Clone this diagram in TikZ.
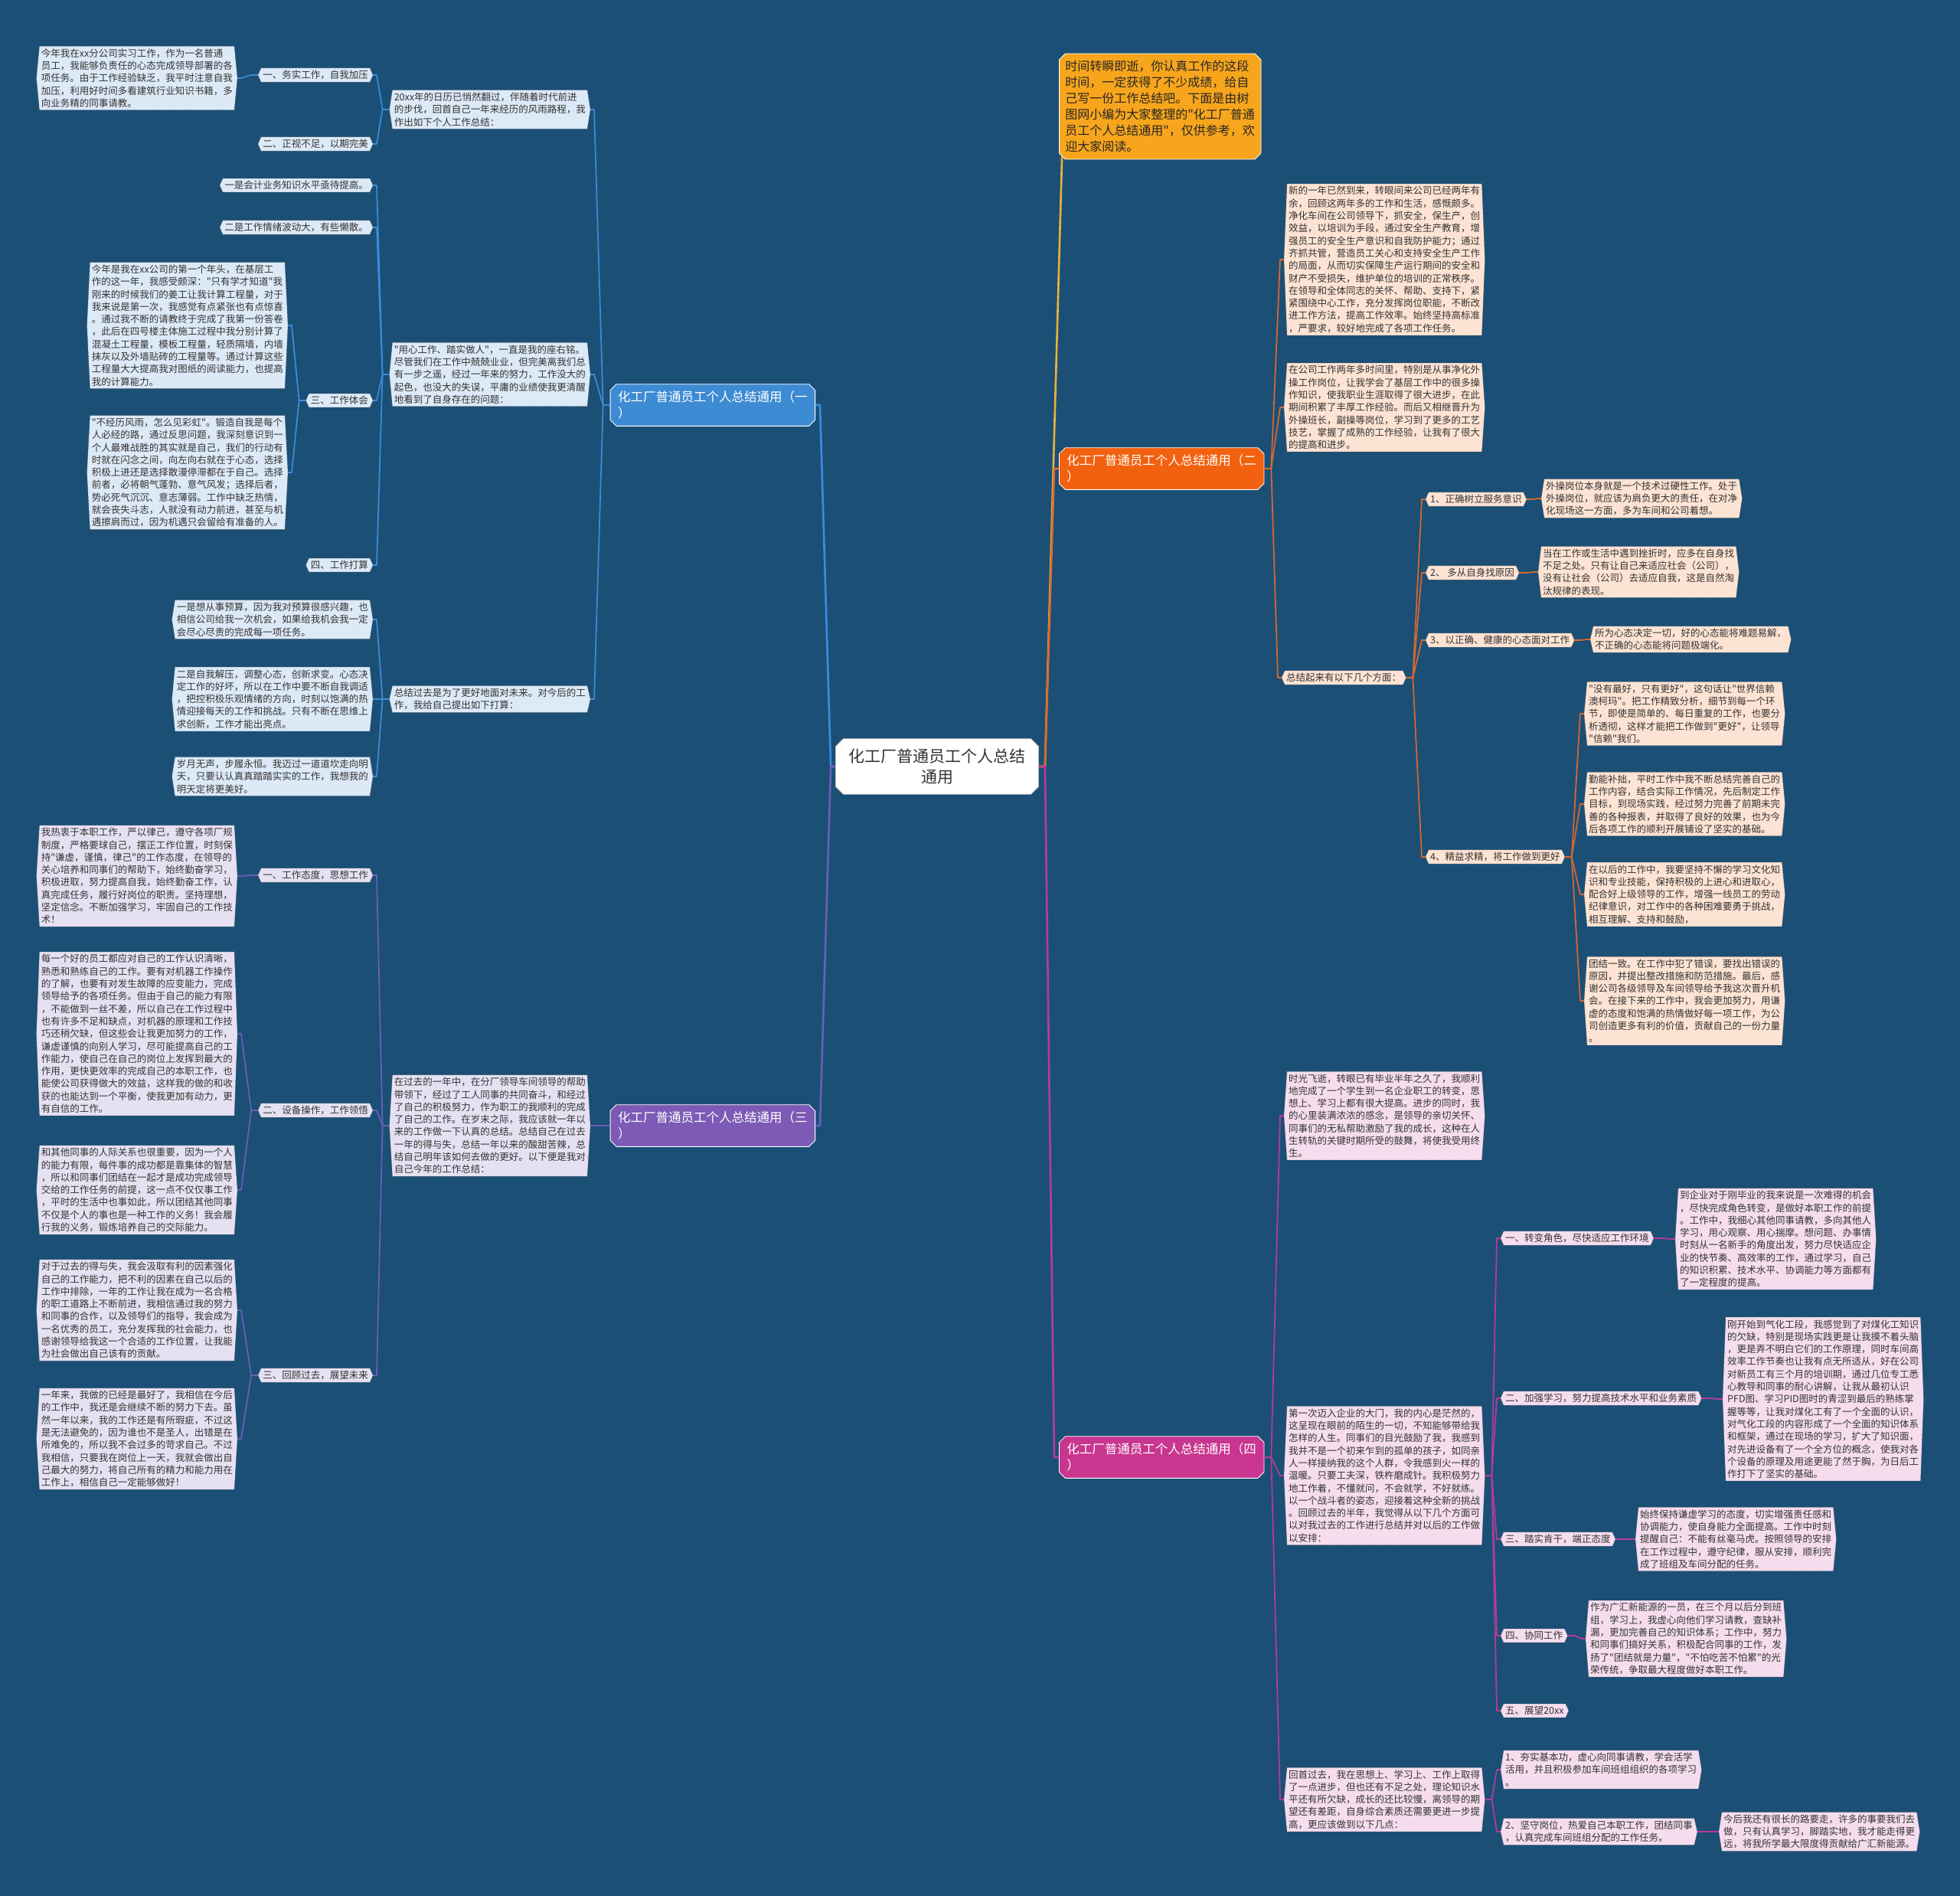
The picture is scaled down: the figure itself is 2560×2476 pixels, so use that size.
\documentclass[tikz,border=0pt]{standalone}
\usepackage{fontspec}
\setmainfont{Noto Sans CJK SC}[Ligatures=TeXOff]
\usetikzlibrary{shapes.misc,backgrounds}

\definecolor{pagebg}{HTML}{1C4F76}
\definecolor{inktext}{HTML}{333333}
\definecolor{blueline}{HTML}{3B8DDB}
\definecolor{bluefill}{HTML}{3D8BD3}
\definecolor{blueleaf}{HTML}{DCE9F6}
\definecolor{redline}{HTML}{D9692E}
\definecolor{redfill}{HTML}{F2610F}
\definecolor{redleaf}{HTML}{FDE3D3}
\definecolor{purpline}{HTML}{6A5FB8}
\definecolor{purpfill}{HTML}{7D5AB5}
\definecolor{purpleaf}{HTML}{E6E1F2}
\definecolor{pinkline}{HTML}{B63B9C}
\definecolor{pinkfill}{HTML}{C8368F}
\definecolor{pinkleaf}{HTML}{F5DDEE}
\definecolor{goldline}{HTML}{E9B33A}
\definecolor{goldfill}{HTML}{F7A51C}

\newcommand\leaffont{\fontsize{12.5}{16.3}\selectfont}
\newcommand\branchfont{\fontsize{16.5}{21}\selectfont}
\newcommand\introfont{\fontsize{16}{21}\selectfont}
\newcommand\rootfont{\fontsize{21}{27}\selectfont}
\newcommand\hexof[2]{\path[#2] ([xshift=4pt]#1.north west) -- ([xshift=-4pt]#1.north east) -- (#1.east) -- ([xshift=-4pt]#1.south east) -- ([xshift=4pt]#1.south west) -- (#1.west) -- cycle;}

\tikzset{
  leaf/.style={align=left, font=\leaffont, text=inktext, inner xsep=6pt, inner ysep=3pt},
  lhs/.style={leaf, anchor=east},
  rhs/.style={leaf, anchor=west},
  branch/.style={chamfered rectangle, chamfered rectangle sep=4pt, draw=white, line width=0.8pt, fill=#1, text=white, font=\branchfont, align=left, inner xsep=6pt, inner ysep=5pt},
  introbox/.style={chamfered rectangle, chamfered rectangle sep=4pt, draw=white, line width=0.8pt, fill=goldfill, text=black!85, font=\introfont, align=left, inner xsep=4pt, inner ysep=5pt},
  rootbox/.style={chamfered rectangle, chamfered rectangle sep=5pt, draw=black!25, line width=0.8pt, fill=white, text=black!80, font=\rootfont, align=center, inner xsep=12pt, inner ysep=8pt},
  hexfill/.style={fill=#1, draw=black!60, line width=0.5pt, densely dotted},
  wire/.style={draw=#1, line width=1.7pt},
  trunk/.style={draw=#1, line width=2.6pt}
}

\begin{document}
\begin{tikzpicture}[x=1pt, y=-1pt, line join=round]
\useasboundingbox (0,0) rectangle (2560,2476);

\node[rootbox] (root) at (1224,1001) {化工厂普通员工个人总结\\通用};

\node[branch=bluefill, anchor=east] (br1) at (1065,529) {化工厂普通员工个人总结通用（一\\）};
\node[branch=purpfill, anchor=east] (br3) at (1065,1470) {化工厂普通员工个人总结通用（三\\）};
\node[branch=redfill, anchor=west] (br2) at (1383,612) {化工厂普通员工个人总结通用（二\\）};
\node[branch=pinkfill, anchor=west] (br4) at (1383,1903) {化工厂普通员工个人总结通用（四\\）};
\node[introbox, anchor=west] (intro) at (1383,139) {时间转瞬即逝，你认真工作的这段\\时间，一定获得了不少成绩，给自\\己写一份工作总结吧。下面是由树\\图网小编为大家整理的"化工厂普通\\员工个人总结通用"，仅供参考，欢\\迎大家阅读。};

\node[lhs] (s1a) at (771,143) {20xx年的日历已悄然翻过，伴随着时代前进\\的步伐，回首自己一年来经历的风雨路程，我\\作出如下个人工作总结：};
\node[lhs] (t1a1) at (487,98) {一、务实工作，自我加压};
\node[lhs] (t1a2) at (487,188) {二、正视不足，以期完美};
\node[lhs] (u1a1) at (310,102) {今年我在xx分公司实习工作，作为一名普通\\员工，我能够负责任的心态完成领导部署的各\\项任务。由于工作经验缺乏，我平时注意自我\\加压，利用好时间多看建筑行业知识书籍，多\\向业务精的同事请教。};

\node[lhs] (s1b) at (771,489) {"用心工作、踏实做人"，一直是我的座右铭。\\尽管我们在工作中兢兢业业，但完美离我们总\\有一步之遥，经过一年来的努力，工作没大的\\起色，也没大的失误，平庸的业绩使我更清醒\\地看到了自身存在的问题：};
\node[lhs] (t1b1) at (487,242) {一是会计业务知识水平亟待提高。};
\node[lhs] (t1b2) at (487,297) {二是工作情绪波动大，有些懒散。};
\node[lhs] (t1b3) at (487,523) {三、工作体会};
\node[lhs] (t1b4) at (487,738) {四、工作打算};
\node[lhs] (u1b1) at (376,425) {今年是我在xx公司的第一个年头，在基层工\\作的这一年，我感受颇深："只有学才知道"我\\刚来的时候我们的姜工让我计算工程量，对于\\我来说是第一次，我感觉有点紧张也有点惊喜\\。通过我不断的请教终于完成了我第一份答卷\\，此后在四号楼主体施工过程中我分别计算了\\混凝土工程量，模板工程量，轻质隔墙，内墙\\抹灰以及外墙贴砖的工程量等。通过计算这些\\工程量大大提高我对图纸的阅读能力，也提高\\我的计算能力。};
\node[lhs] (u1b2) at (376,617) {"不经历风雨，怎么见彩虹"。锻造自我是每个\\人必经的路，通过反思问题，我深刻意识到一\\个人最难战胜的其实就是自己，我们的行动有\\时就在闪念之间，向左向右就在于心态，选择\\积极上进还是选择散漫停滞都在于自己。选择\\前者，必将朝气蓬勃、意气风发；选择后者，\\势必死气沉沉、意志薄弱。工作中缺乏热情，\\就会丧失斗志，人就没有动力前进，甚至与机\\遇擦肩而过，因为机遇只会留给有准备的人。};

\node[lhs] (s1c) at (771,913) {总结过去是为了更好地面对未来。对今后的工\\作，我给自己提出如下打算：};
\node[lhs] (t1c1) at (487,809) {一是想从事预算，因为我对预算很感兴趣，也\\相信公司给我一次机会，如果给我机会我一定\\会尽心尽责的完成每一项任务。};
\node[lhs] (t1c2) at (487,913) {二是自我解压，调整心态，创新求变。心态决\\定工作的好坏，所以在工作中要不断自我调适\\，把控积极乐观情绪的方向，时刻以饱满的热\\情迎接每天的工作和挑战。只有不断在思维上\\求创新，工作才能出亮点。};
\node[lhs] (t1c3) at (487,1014) {岁月无声，步履永恒。我迈过一道道坎走向明\\天，只要认认真真踏踏实实的工作，我想我的\\明天定将更美好。};

\node[lhs] (s3a) at (771,1470) {在过去的一年中，在分厂领导车间领导的帮助\\带领下，经过了工人同事的共同奋斗，和经过\\了自己的积极努力，作为职工的我顺利的完成\\了自己的工作。在岁末之际，我应该就一年以\\来的工作做一下认真的总结。总结自己在过去\\一年的得与失，总结一年以来的酸甜苦辣，总\\结自己明年该如何去做的更好。以下便是我对\\自己今年的工作总结：};
\node[lhs] (t3a1) at (487,1143) {一、工作态度，思想工作};
\node[lhs] (t3a2) at (487,1450) {二、设备操作，工作领悟};
\node[lhs] (t3a3) at (487,1796) {三、回顾过去，展望未来};
\node[lhs] (u3a1) at (310,1144) {我热衷于本职工作，严以律己，遵守各项厂规\\制度，严格要球自己，摆正工作位置，时刻保\\持"谦虚，谨慎，律己"的工作态度，在领导的\\关心培养和同事们的帮助下，始终勤奋学习，\\积极进取，努力提高自我，始终勤奋工作，认\\真完成任务，履行好岗位的职责。坚持理想，\\坚定信念。不断加强学习，牢固自己的工作技\\术！};
\node[lhs] (u3a2) at (310,1350) {每一个好的员工都应对自己的工作认识清晰，\\熟悉和熟练自己的工作。要有对机器工作操作\\的了解，也要有对发生故障的应变能力，完成\\领导给予的各项任务。但由于自己的能力有限\\，不能做到一丝不差，所以自己在工作过程中\\也有许多不足和缺点，对机器的原理和工作技\\巧还稍欠缺，但这些会让我更加努力的工作，\\谦虚谨慎的向别人学习，尽可能提高自己的工\\作能力，使自己在自己的岗位上发挥到最大的\\作用，更快更效率的完成自己的本职工作，也\\能使公司获得做大的效益，这样我的做的和收\\获的也能达到一个平衡，使我更加有动力，更\\有自信的工作。};
\node[lhs] (u3a3) at (310,1554) {和其他同事的人际关系也很重要，因为一个人\\的能力有限，每件事的成功都是靠集体的智慧\\，所以和同事们团结在一起才是成功完成领导\\交给的工作任务的前提，这一点不仅仅事工作\\，平时的生活中也事如此，所以团结其他同事\\不仅是个人的事也是一种工作的义务！我会履\\行我的义务，锻炼培养自己的交际能力。};
\node[lhs] (u3a4) at (310,1711) {对于过去的得与失，我会汲取有利的因素强化\\自己的工作能力，把不利的因素在自己以后的\\工作中排除，一年的工作让我在成为一名合格\\的职工道路上不断前进，我相信通过我的努力\\和同事的合作，以及领导们的指导，我会成为\\一名优秀的员工，充分发挥我的社会能力，也\\感谢领导给我这一个合适的工作位置，让我能\\为社会做出自己该有的贡献。};
\node[lhs] (u3a5) at (310,1879) {一年来，我做的已经是最好了，我相信在今后\\的工作中，我还是会继续不断的努力下去。虽\\然一年以来，我的工作还是有所瑕疵，不过这\\是无法避免的，因为谁也不是圣人，出错是在\\所难免的，所以我不会过多的苛求自己。不过\\我相信，只要我在岗位上一天，我就会做出自\\己最大的努力，将自己所有的精力和能力用在\\工作上，相信自己一定能够做好！};

\node[rhs] (s2a) at (1677,339) {新的一年已然到来，转眼间来公司已经两年有\\余，回顾这两年多的工作和生活，感慨颇多。\\净化车间在公司领导下，抓安全，保生产，创\\效益，以培训为手段，通过安全生产教育，增\\强员工的安全生产意识和自我防护能力；通过\\齐抓共管，营造员工关心和支持安全生产工作\\的局面，从而切实保障生产运行期间的安全和\\财产不受损失，维护单位的培训的正常秩序。\\在领导和全体同志的关怀、帮助、支持下，紧\\紧围绕中心工作，充分发挥岗位职能，不断改\\进工作方法，提高工作效率。始终坚持高标准\\，严要求，较好地完成了各项工作任务。};
\node[rhs] (s2b) at (1677,532) {在公司工作两年多时间里，特别是从事净化外\\操工作岗位，让我学会了基层工作中的很多操\\作知识，使我职业生涯取得了很大进步，在此\\期间积累了丰厚工作经验。而后又相继晋升为\\外操班长，副操等岗位，学习到了更多的工艺\\技艺，掌握了成熟的工作经验，让我有了很大\\的提高和进步。};
\node[rhs] (s2c) at (1674,885) {总结起来有以下几个方面：};
\node[rhs] (t2c1) at (1862,652) {1、正确树立服务意识};
\node[rhs] (t2c2) at (1862,748) {2、 多从自身找原因};
\node[rhs] (t2c3) at (1862,836) {3、以正确、健康的心态面对工作};
\node[rhs] (t2c4) at (1862,1119) {4、精益求精，将工作做到更好};
\node[rhs] (u2c1) at (2013,651) {外操岗位本身就是一个技术过硬性工作。处于\\外操岗位，就应该为肩负更大的责任，在对净\\化现场这一方面，多为车间和公司着想。};
\node[rhs] (u2c2) at (2009,747) {当在工作或生活中遇到挫折时，应多在自身找\\不足之处。只有让自己来适应社会（公司），\\没有让社会（公司）去适应自我，这是自然淘\\汰规律的表现。};
\node[rhs] (u2c3) at (2077,835) {所为心态决定一切，好的心态能将难题易解，\\不正确的心态能将问题极端化。};
\node[rhs] (u2c4) at (2069,932) {"没有最好，只有更好"，这句话让"世界信赖\\澳柯玛"。把工作精致分析，细节到每一个环\\节，即使是简单的、每日重复的工作，也要分\\析透彻，这样才能把工作做到"更好"，让领导\\"信赖"我们。};
\node[rhs] (u2c5) at (2069,1050) {勤能补拙，平时工作中我不断总结完善自己的\\工作内容，结合实际工作情况，先后制定工作\\目标，到现场实践，经过努力完善了前期未完\\善的各种报表，并取得了良好的效果，也为今\\后各项工作的顺利开展铺设了坚实的基础。};
\node[rhs] (u2c6) at (2069,1168) {在以后的工作中，我要坚持不懈的学习文化知\\识和专业技能，保持积极的上进心和进取心，\\配合好上级领导的工作，增强一线员工的劳动\\纪律意识，对工作中的各种困难要勇于挑战，\\相互理解、支持和鼓励，};
\node[rhs] (u2c7) at (2069,1307) {团结一致。在工作中犯了错误，要找出错误的\\原因，并提出整改措施和防范措施。最后，感\\谢公司各级领导及车间领导给予我这次晋升机\\会。在接下来的工作中，我会更加努力，用谦\\虚的态度和饱满的热情做好每一项工作，为公\\司创造更多有利的价值，贡献自己的一份力量\\。};

\node[rhs] (s4a) at (1677,1457) {时光飞逝，转眼已有毕业半年之久了，我顺利\\地完成了一个学生到一名企业职工的转变，思\\想上、学习上都有很大提高。进步的同时，我\\的心里装满浓浓的感念，是领导的亲切关怀、\\同事们的无私帮助激励了我的成长，这种在人\\生转轨的关键时期所受的鼓舞，将使我受用终\\生。};
\node[rhs] (s4b) at (1677,1927) {第一次迈入企业的大门，我的内心是茫然的，\\这呈现在眼前的陌生的一切，不知能够带给我\\怎样的人生。同事们的目光鼓励了我，我感到\\我并不是一个初来乍到的孤单的孩子，如同亲\\人一样接纳我的这个人群，令我感到火一样的\\温暖。只要工夫深，铁杵磨成针。我积极努力\\地工作着，不懂就问，不会就学，不好就练。\\以一个战斗者的姿态，迎接着这种全新的挑战\\。回顾过去的半年，我觉得从以下几个方面可\\以对我过去的工作进行总结并对以后的工作做\\以安排：};
\node[rhs] (s4c) at (1677,2350) {回首过去，我在思想上、学习上、工作上取得\\了一点进步，但也还有不足之处，理论知识水\\平还有所欠缺，成长的还比较慢，离领导的期\\望还有差距，自身综合素质还需要更进一步提\\高，更应该做到以下几点：};
\node[rhs] (t4b1) at (1960,1617) {一、转变角色，尽快适应工作环境};
\node[rhs] (t4b2) at (1960,1826) {二、加强学习，努力提高技术水平和业务素质};
\node[rhs] (t4b3) at (1960,2010) {三、踏实肯干，端正态度};
\node[rhs] (t4b4) at (1960,2136) {四、协同工作};
\node[rhs] (t4b5) at (1960,2234) {五、展望20xx};
\node[rhs] (u4b1) at (2188,1618) {到企业对于刚毕业的我来说是一次难得的机会\\，尽快完成角色转变，是做好本职工作的前提\\。工作中，我细心其他同事请教，多向其他人\\学习，用心观察、用心揣摩。想问题、办事情\\时刻从一名新手的角度出发，努力尽快适应企\\业的快节奏、高效率的工作，通过学习，自己\\的知识积累、技术水平、协调能力等方面都有\\了一定程度的提高。};
\node[rhs] (u4b2) at (2250,1827) {刚开始到气化工段，我感觉到了对煤化工知识\\的欠缺，特别是现场实践更是让我摸不着头脑\\，更是弄不明白它们的工作原理，同时车间高\\效率工作节奏也让我有点无所适从，好在公司\\对新员工有三个月的培训期，通过几位专工悉\\心教导和同事的耐心讲解，让我从最初认识\\PFD图、学习PID图时的青涩到最后的熟练掌\\握等等，让我对煤化工有了一个全面的认识，\\对气化工段的内容形成了一个全面的知识体系\\和框架，通过在现场的学习，扩大了知识面，\\对先进设备有了一个全方位的概念，使我对各\\个设备的原理及用途更能了然于胸，为日后工\\作打下了坚实的基础。};
\node[rhs] (u4b3) at (2136,2010) {始终保持谦虚学习的态度，切实增强责任感和\\协调能力，使自身能力全面提高。工作中时刻\\提醒自己：不能有丝毫马虎。按照领导的安排\\在工作过程中，遵守纪律，服从安排，顺利完\\成了班组及车间分配的任务。};
\node[rhs] (u4b4) at (2071,2140) {作为广汇新能源的一员，在三个月以后分到班\\组，学习上，我虚心向他们学习请教，查缺补\\漏，更加完善自己的知识体系；工作中，努力\\和同事们搞好关系，积极配合同事的工作，发\\扬了"团结就是力量"，"不怕吃苦不怕累"的光\\荣传统，争取最大程度做好本职工作。};
\node[rhs] (t4c1) at (1960,2311) {1、夯实基本功，虚心向同事请教，学会活学\\活用，并且积极参加车间班组组织的各项学习\\。};
\node[rhs] (t4c2) at (1960,2392) {2、坚守岗位，热爱自己本职工作，团结同事\\，认真完成车间班组分配的工作任务。};
\node[rhs] (u4c2) at (2245,2392) {今后我还有很长的路要走，许多的事要我们去\\做，只有认真学习，脚踏实地，我才能走得更\\远，将我所学最大限度得贡献给广汇新能源。};

\draw[trunk=blueline] (root.west) -- ++(-6,0) -- ([xshift=6pt]br1.east) -- (br1.east);
\draw[trunk=purpline] (root.west) -- ++(-6,0) -- ([xshift=6pt]br3.east) -- (br3.east);
\draw[trunk=goldline] (root.east) -- ++(8,0) -- (intro.south west);
\draw[trunk=redline] (root.east) -- ++(8,0) -- ([xshift=-6pt]br2.west) -- (br2.west);
\draw[trunk=pinkline] (root.east) -- ++(8,0) -- ([xshift=-6pt]br4.west) -- (br4.west);

\foreach \a/\b in {br1/s1a, br1/s1b, br1/s1c, s1a/t1a1, s1a/t1a2, t1a1/u1a1, s1b/t1b1, s1b/t1b2, s1b/t1b3, s1b/t1b4, t1b3/u1b1, t1b3/u1b2, s1c/t1c1, s1c/t1c2, s1c/t1c3}
  \draw[wire=blueline] (\a.west) -- ++(-9,0) -- ([xshift=5pt]\b.east) -- (\b.east);
\foreach \a/\b in {br3/s3a, s3a/t3a1, s3a/t3a2, s3a/t3a3, t3a1/u3a1, t3a2/u3a2, t3a2/u3a3, t3a3/u3a4, t3a3/u3a5}
  \draw[wire=purpline] (\a.west) -- ++(-9,0) -- ([xshift=5pt]\b.east) -- (\b.east);
\foreach \a/\b in {br2/s2a, br2/s2b, br2/s2c, s2c/t2c1, s2c/t2c2, s2c/t2c3, s2c/t2c4, t2c1/u2c1, t2c2/u2c2, t2c3/u2c3, t2c4/u2c4, t2c4/u2c5, t2c4/u2c6, t2c4/u2c7}
  \draw[wire=redline] (\a.east) -- ++(9,0) -- ([xshift=-5pt]\b.west) -- (\b.west);
\foreach \a/\b in {br4/s4a, br4/s4b, br4/s4c, s4b/t4b1, s4b/t4b2, s4b/t4b3, s4b/t4b4, s4b/t4b5, t4b1/u4b1, t4b2/u4b2, t4b3/u4b3, t4b4/u4b4, s4c/t4c1, s4c/t4c2, t4c2/u4c2}
  \draw[wire=pinkline] (\a.east) -- ++(9,0) -- ([xshift=-5pt]\b.west) -- (\b.west);

\begin{pgfonlayer}{background}
\fill[pagebg] (0,0) rectangle (2560,2476);
\foreach \n in {s1a, t1a1, t1a2, u1a1, s1b, t1b1, t1b2, t1b3, t1b4, u1b1, u1b2, s1c, t1c1, t1c2, t1c3}
  {\hexof{\n}{hexfill=blueleaf}}
\foreach \n in {s3a, t3a1, t3a2, t3a3, u3a1, u3a2, u3a3, u3a4, u3a5}
  {\hexof{\n}{hexfill=purpleaf}}
\foreach \n in {s2a, s2b, s2c, t2c1, t2c2, t2c3, t2c4, u2c1, u2c2, u2c3, u2c4, u2c5, u2c6, u2c7}
  {\hexof{\n}{hexfill=redleaf}}
\foreach \n in {s4a, s4b, s4c, t4b1, t4b2, t4b3, t4b4, t4b5, u4b1, u4b2, u4b3, u4b4, t4c1, t4c2, u4c2}
  {\hexof{\n}{hexfill=pinkleaf}}
\end{pgfonlayer}
\end{tikzpicture}
\end{document}
